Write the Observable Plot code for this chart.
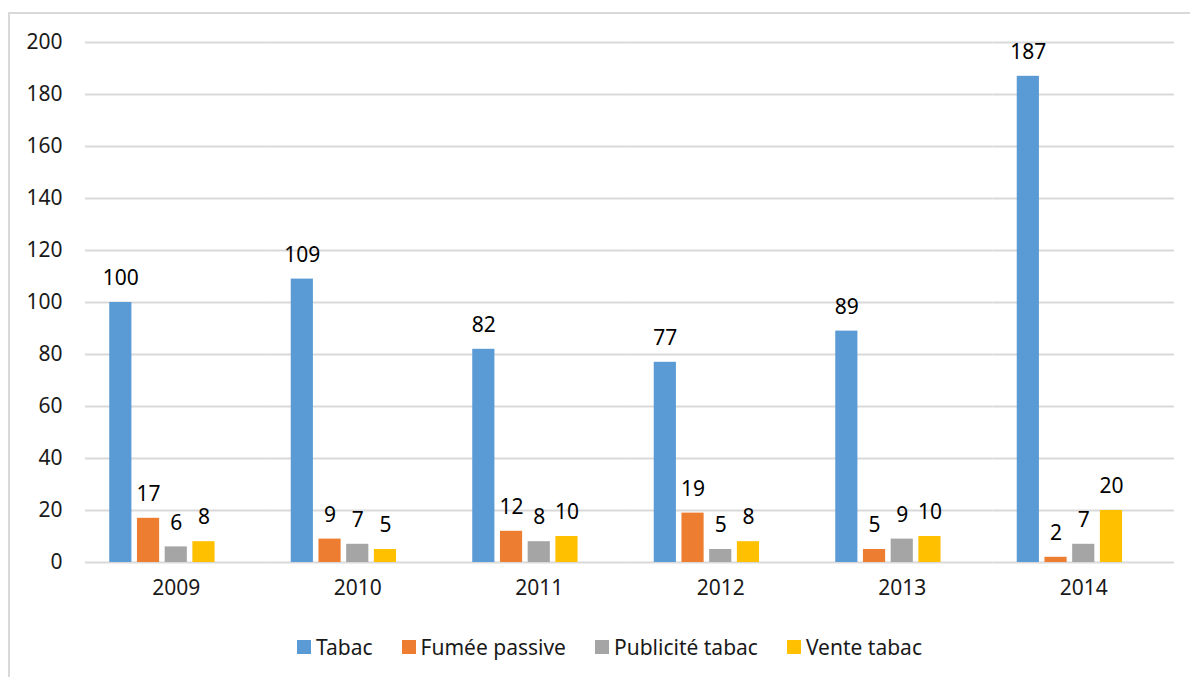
<!DOCTYPE html>
<html>
<head>
<meta charset="utf-8">
<script src="https://cdn.jsdelivr.net/npm/d3@7"></script>
<script src="https://cdn.jsdelivr.net/npm/@observablehq/plot@0.6"></script>
<style>
  html, body { margin: 0; padding: 0; background: #fff; overflow: hidden; width: 1190px; height: 677px; }
  #frame { position: absolute; left: 8px; top: 12px; width: 1300px; height: 800px; border: 2px solid #d9d9d9; box-sizing: border-box; }
  #chart { position: absolute; left: 0; top: 0; }
  #legend { position: absolute; top: 632px; left: 297px; display: flex; gap: 29px; line-height: 30px;
            font-family: "Noto Sans", sans-serif; font-size: 21px; color: #1a1a1a; white-space: nowrap; }
  #legend .item { display: flex; align-items: center; gap: 5px; }
  #legend .sw { width: 14px; height: 14px; display: inline-block; }
</style>
</head>
<body>
<div id="frame"></div>
<div id="chart"></div>
<div id="legend"></div>
<script>
const years = ["2009", "2010", "2011", "2012", "2013", "2014"];
const seriesNames = ["Tabac", "Fumée passive", "Publicité tabac", "Vente tabac"];
const tabac = [100, 109, 82, 77, 89, 187];
const fumeePassive = [17, 9, 12, 19, 5, 2];
const publiciteTabac = [6, 7, 8, 5, 9, 7];
const venteTabac = [8, 5, 10, 8, 10, 20];
const colors = ["#5b9bd5", "#ed7d31", "#a5a5a5", "#ffc000"];
const yTicks = [0, 20, 40, 60, 80, 100, 120, 140, 160, 180, 200];

const seriesValues = [tabac, fumeePassive, publiciteTabac, venteTabac];
const data = [];
years.forEach((yr, i) => {
  seriesNames.forEach((s, j) => data.push({year: yr, series: s, value: seriesValues[j][i]}));
});

const font = '"Noto Sans", sans-serif';
const fs = 21;
const chart = Plot.plot({
  width: 1190,
  height: 610,
  marginLeft: 85,
  marginRight: 16,
  marginTop: 42,
  marginBottom: 48,
  style: {fontFamily: font, fontSize: fs + "px", color: "#1a1a1a", background: "transparent"},
  fx: {domain: years, padding: 0, round: false, label: null},
  x: {domain: [...seriesNames, "_"], paddingInner: 0.2, paddingOuter: 0.875, round: false, axis: null},
  y: {domain: [0, 200], ticks: yTicks, label: null},
  color: {domain: seriesNames, range: colors},
  marks: [
    Plot.ruleY(yTicks, {stroke: "#d9d9d9", strokeWidth: 2}),
    Plot.barY(data, {fx: "year", x: "series", y: "value", fill: "series"}),
    Plot.text(data, {fx: "year", x: "series", y: "value", text: d => String(d.value), dy: -24, fontSize: fs, fill: "#000"}),
    Plot.axisY({ticks: yTicks, tickSize: 0, tickPadding: 23, fontSize: fs, label: null}),
    Plot.axisFx({anchor: "bottom", tickSize: 0, tickPadding: 18, fontSize: fs, label: null})
  ]
});
document.getElementById("chart").appendChild(chart);

const legend = document.getElementById("legend");
seriesNames.forEach((s, i) => {
  const it = document.createElement("div");
  it.className = "item";
  it.innerHTML = `<span class="sw" style="background:${colors[i]}"></span><span>${s}</span>`;
  legend.appendChild(it);
});
</script>
</body>
</html>
